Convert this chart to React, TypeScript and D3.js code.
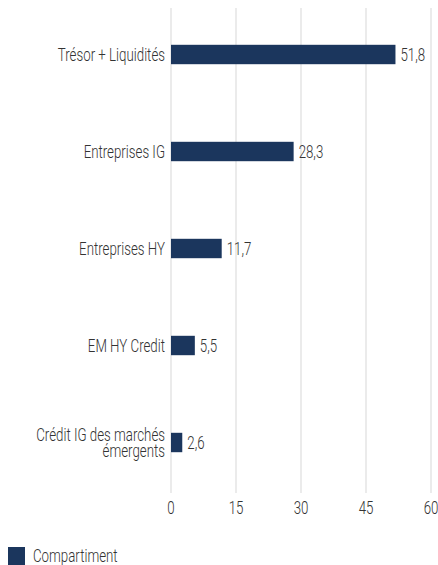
import { useEffect, useRef } from "react";
import * as d3 from "d3";

// data
const categories = [
  "Trésor + Liquidités",
  "Entreprises IG",
  "Entreprises HY",
  "EM HY Credit",
  "Crédit IG des marchés émergents",
];
const values = [51.8, 28.3, 11.7, 5.5, 2.6];
const ticks = [0, 15, 30, 45, 60];
const seriesName = "Compartiment";

// long labels get wrapped like in the original
const labelLines: { [k: string]: string[] } = {
  "Crédit IG des marchés émergents": ["Crédit IG des marchés", "émergents"],
};

const W = 438;
const H = 565;
const FONT = "Roboto, sans-serif";
const FS = 19;
const SX = 0.7; // squeeze to mimic the condensed face
const BAR = "#1b365d";
const TXT = "#333333";

const App = () => {
  const ref = useRef<SVGSVGElement>(null);

  useEffect(() => {
    const svg = d3.select(ref.current);
    svg.selectAll("*").remove();

    const margin = { top: 8, right: 7, bottom: 72, left: 171 };
    const innerW = W - margin.left - margin.right;

    const x = d3.scaleLinear().domain([0, 60]).range([0, innerW]);
    const y = d3
      .scaleBand<string>()
      .domain(categories)
      .range([-2, 483])
      .paddingInner(0.8)
      .paddingOuter(0.4);

    const g = svg
      .append("g")
      .attr("transform", `translate(${margin.left},${margin.top})`);

    // helper: condensed text placed at px,py
    const label = (
      parent: any,
      px: number,
      py: number,
      txt: string,
      anchor: string
    ) =>
      parent
        .append("text")
        .attr("transform", `translate(${px},${py}) scale(${SX},1)`)
        .attr("dy", "0.35em")
        .attr("text-anchor", anchor)
        .attr("font-family", FONT)
        .attr("font-weight", 300)
        .attr("font-size", FS)
        .attr("fill", TXT)
        .text(txt);

    // vertical grid lines
    g.selectAll("line.grid")
      .data(ticks)
      .enter()
      .append("line")
      .attr("class", "grid")
      .attr("x1", (d) => x(d))
      .attr("x2", (d) => x(d))
      .attr("y1", 0)
      .attr("y2", 485)
      .attr("stroke", "#ebebeb")
      .attr("stroke-width", 2);

    // tick labels
    ticks.forEach((t) => label(g, x(t), 499, String(t), "middle"));

    const rows = categories.map((c, i) => ({ c, v: values[i] }));

    // bars
    g.selectAll("rect.bar")
      .data(rows)
      .enter()
      .append("rect")
      .attr("class", "bar")
      .attr("x", x(0))
      .attr("y", (d) => y(d.c)!)
      .attr("width", (d) => x(d.v) - x(0))
      .attr("height", y.bandwidth())
      .attr("fill", BAR);

    rows.forEach((d) => {
      const cy = y(d.c)! + y.bandwidth() / 2;
      // value label
      label(g, x(d.v) + 5, cy, d3.format(".1f")(d.v).replace(".", ","), "start");
      // category label
      const lines = labelLines[d.c] || [d.c];
      const lh = 15.5;
      lines.forEach((ln, j) =>
        label(g, -6, cy + (j - (lines.length - 1) / 2) * lh, ln, "end")
      );
    });

    // legend
    svg
      .append("rect")
      .attr("x", 8)
      .attr("y", 547)
      .attr("width", 17)
      .attr("height", 18)
      .attr("fill", BAR);
    label(svg, 33, 555, seriesName, "start");
  }, []);

  return (
    <svg
      ref={ref}
      width={W}
      height={H}
      style={{ position: "absolute", left: 0, top: 0, background: "#fff" }}
    />
  );
};

export default App;
